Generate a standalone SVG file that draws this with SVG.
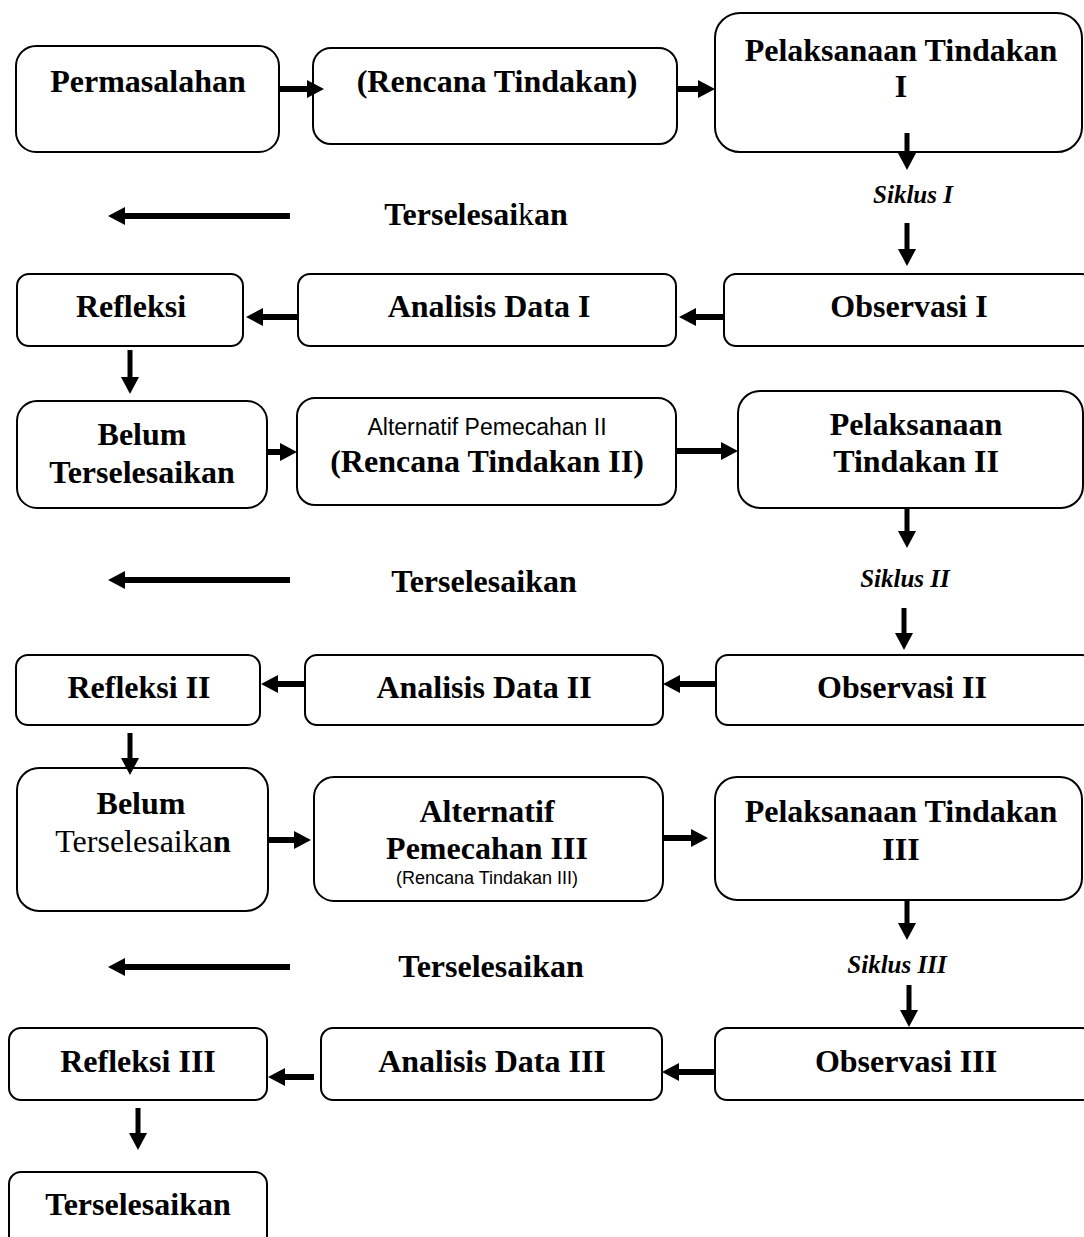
<svg xmlns="http://www.w3.org/2000/svg" width="1084" height="1237" viewBox="0 0 1084 1237">
<defs>
<style>
.box{fill:#fff;stroke:#000;stroke-width:2}
.t{font-family:"Liberation Serif","Times New Roman",serif;font-weight:bold;font-size:32px;fill:#000;text-anchor:middle}
.n{font-weight:normal}
.sik{font-family:"Liberation Serif","Times New Roman",serif;font-weight:bold;font-style:italic;font-size:25px;fill:#000;text-anchor:middle}
.s{font-family:"Liberation Sans",Arial,sans-serif;fill:#000;text-anchor:middle}
.h{stroke:#000;stroke-width:6;fill:none;marker-end:url(#ah)}
.v{stroke:#000;stroke-width:5;fill:none;marker-end:url(#ah)}
</style>
<marker id="ah" viewBox="0 0 17 18" markerWidth="17" markerHeight="18" refX="7" refY="9" orient="auto" markerUnits="userSpaceOnUse">
<path d="M0,0 L17,9 L0,18 Z" fill="#000"/>
</marker>
</defs>
<rect width="1084" height="1237" fill="#fff"/>

<g id="permasalahan"><rect class="box" x="16" y="46" width="263" height="106" rx="20"/><text class="t" x="148" y="92">Permasalahan</text></g>
<g id="rencana1"><rect class="box" x="313" y="48" width="364" height="96" rx="18"/><text class="t" x="497" y="92">(Rencana Tindakan)</text></g>
<g id="pelaksanaan1"><rect class="box" x="715" y="13" width="367" height="139" rx="25"/><text class="t" x="901" y="61">Pelaksanaan Tindakan</text><text class="t" x="901" y="97">I</text></g>
<g id="siklus1"><text class="sik" x="913" y="203">Siklus I</text></g>
<g id="selesai1"><text class="t" x="476" y="225">Terselesai<tspan class="n">k</tspan>an</text></g>

<g id="refleksi1"><rect class="box" x="17" y="274" width="226" height="72" rx="12"/><text class="t" x="131" y="317">Refleksi</text></g>
<g id="analisis1"><rect class="box" x="298" y="274" width="378" height="72" rx="12"/><text class="t" x="489" y="317">Analisis Data I</text></g>
<g id="observasi1"><rect class="box" x="724" y="274" width="370" height="72" rx="12"/><text class="t" x="909" y="317">Observasi I</text></g>

<g id="belum1"><rect class="box" x="17" y="401" width="250" height="107" rx="20"/><text class="t" x="142" y="445">Belum</text><text class="t" x="142" y="483">Terselesaikan</text></g>
<g id="alternatif2"><rect class="box" x="297" y="398" width="379" height="107" rx="18"/><text class="s" x="487" y="435" font-size="23">Alternatif Pemecahan II</text><text class="t" x="487" y="472">(Rencana Tindakan II)</text></g>
<g id="pelaksanaan2"><rect class="box" x="738" y="391" width="345" height="117" rx="22"/><text class="t" x="916" y="435">Pelaksanaan</text><text class="t" x="916" y="472">Tindakan II</text></g>
<g id="siklus2"><text class="sik" x="905" y="587">Siklus II</text></g>
<g id="selesai2"><text class="t" x="484" y="592">Terselesaikan</text></g>

<g id="refleksi2"><rect class="box" x="16" y="655" width="244" height="70" rx="12"/><text class="t" x="139" y="698">Refleksi II</text></g>
<g id="analisis2"><rect class="box" x="305" y="655" width="358" height="70" rx="12"/><text class="t" x="484" y="698">Analisis Data II</text></g>
<g id="observasi2"><rect class="box" x="716" y="655" width="378" height="70" rx="12"/><text class="t" x="902" y="698">Observasi II</text></g>

<g id="belum2"><rect class="box" x="17" y="768" width="251" height="143" rx="22"/><text class="t" x="141" y="814">Belum</text><text class="t" x="143" y="852"><tspan class="n">Terselesaika</tspan>n</text></g>
<g id="alternatif3"><rect class="box" x="314" y="777" width="349" height="124" rx="20"/><text class="t" x="487" y="822">Alternatif</text><text class="t" x="487" y="859">Pemecahan III</text><text class="s" x="487" y="884" font-size="18">(Rencana Tindakan III)</text></g>
<g id="pelaksanaan3"><rect class="box" x="715" y="777" width="367" height="123" rx="22"/><text class="t" x="901" y="822">Pelaksanaan Tindakan</text><text class="t" x="901" y="860">III</text></g>
<g id="siklus3"><text class="sik" x="897" y="973">Siklus III</text></g>
<g id="selesai3"><text class="t" x="491" y="977">Terselesaikan</text></g>

<g id="refleksi3"><rect class="box" x="9" y="1028" width="258" height="72" rx="12"/><text class="t" x="138" y="1072">Refleksi III</text></g>
<g id="analisis3"><rect class="box" x="321" y="1028" width="341" height="72" rx="12"/><text class="t" x="492" y="1072">Analisis Data III</text></g>
<g id="observasi3"><rect class="box" x="715" y="1028" width="379" height="72" rx="12"/><text class="t" x="906" y="1072">Observasi III</text></g>

<g id="terselesaikan"><rect class="box" x="9" y="1172" width="258" height="80" rx="12"/><text class="t" x="138" y="1215">Terselesaikan</text></g>

<g id="connectors">
<line class="h" x1="279" y1="89" x2="314" y2="89"/>
<line class="h" x1="677" y1="89" x2="705" y2="89"/>
<line class="v" x1="907" y1="133" x2="907" y2="160"/>
<line class="v" x1="907" y1="223" x2="907" y2="256"/>
<line class="h" x1="290" y1="216" x2="118" y2="216"/>
<line class="h" x1="298" y1="317" x2="256" y2="317"/>
<line class="h" x1="724" y1="317" x2="689" y2="317"/>
<line class="v" x1="130" y1="350" x2="130" y2="384"/>
<line class="h" x1="267" y1="452" x2="287" y2="452"/>
<line class="h" x1="676" y1="451" x2="728" y2="451"/>
<line class="v" x1="907" y1="508" x2="907" y2="538"/>
<line class="h" x1="290" y1="580" x2="118" y2="580"/>
<line class="v" x1="904" y1="608" x2="904" y2="640"/>
<line class="h" x1="305" y1="684" x2="271" y2="684"/>
<line class="h" x1="716" y1="684" x2="673" y2="684"/>
<line class="v" x1="130" y1="733" x2="130" y2="765"/>
<line class="h" x1="268" y1="840" x2="301" y2="840"/>
<line class="h" x1="663" y1="838" x2="698" y2="838"/>
<line class="v" x1="907" y1="900" x2="907" y2="930"/>
<line class="h" x1="290" y1="967" x2="118" y2="967"/>
<line class="v" x1="909" y1="985" x2="909" y2="1017"/>
<line class="h" x1="314" y1="1077" x2="278" y2="1077"/>
<line class="h" x1="715" y1="1072" x2="672" y2="1072"/>
<line class="v" x1="138" y1="1108" x2="138" y2="1140"/>
</g>
</svg>
